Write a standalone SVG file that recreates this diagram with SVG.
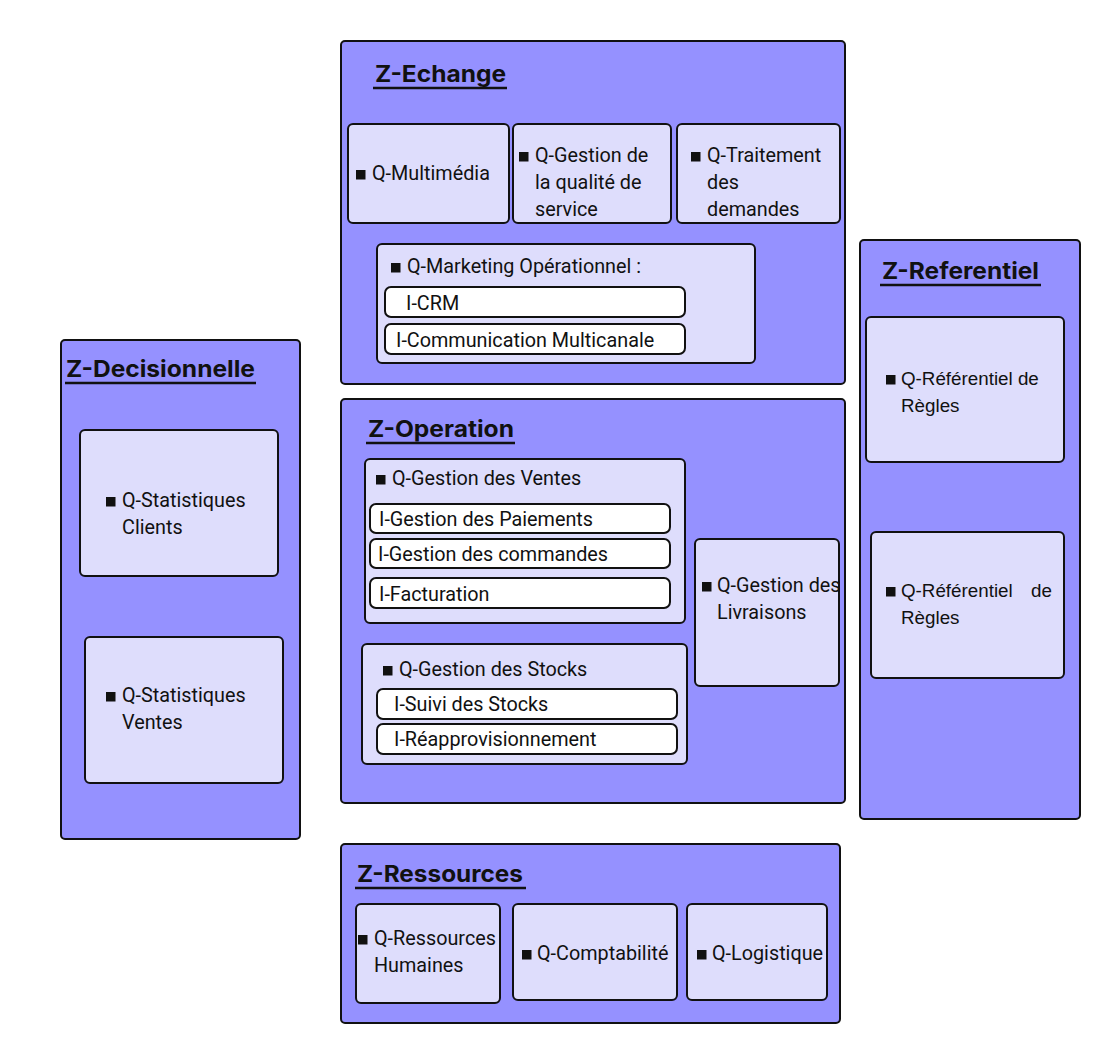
<svg xmlns="http://www.w3.org/2000/svg" width="1120" height="1064" viewBox="0 0 1120 1064">
<style>
.zone{fill:#9591FF;stroke:#111;stroke-width:2}
.q{fill:#DEDDFC;stroke:#111;stroke-width:2}
.i{fill:#FFFFFF;stroke:#111;stroke-width:2}
.t{font-family:Roboto,"Liberation Sans",sans-serif;font-size:19.8px;fill:#111}
.ta{font-family:"Liberation Sans",Arial,sans-serif;font-size:18.8px;fill:#111}
.h{font-family:Inter,"Liberation Sans",sans-serif;font-size:23px;font-weight:bold;fill:#111}
.ul{stroke:#111;stroke-width:2.5}
.b{fill:#111}
</style>
<rect width="1120" height="1064" fill="#FFFFFF"/>

<g id="z-echange">
<rect class="zone" x="341" y="41" width="504" height="343" rx="4"/>
<text class="h" x="375" y="82" textLength="131" lengthAdjust="spacingAndGlyphs">Z-Echange</text>
<line class="ul" x1="373" y1="88" x2="507" y2="88"/>
</g>
<g id="q-multimedia">
<rect class="q" x="348" y="124" width="161" height="99" rx="5"/>
<rect class="b" x="356" y="170" width="9.5" height="9.5"/>
<text class="t" x="372" y="180">Q-Multimédia</text>
</g>
<g id="q-qualite">
<rect class="q" x="513" y="124" width="158" height="99" rx="5"/>
<rect class="b" x="519" y="152" width="9.5" height="9.5"/>
<text class="t" x="535" y="162">Q-Gestion de</text>
<text class="t" x="535" y="189">la qualité de</text>
<text class="t" x="535" y="216">service</text>
</g>
<g id="q-traitement">
<rect class="q" x="677" y="124" width="163" height="99" rx="5"/>
<rect class="b" x="691" y="152" width="9.5" height="9.5"/>
<text class="t" x="707" y="162">Q-Traitement</text>
<text class="t" x="707" y="189">des</text>
<text class="t" x="707" y="216">demandes</text>
</g>
<g id="q-marketing">
<rect class="q" x="377" y="244" width="378" height="119" rx="5"/>
<rect class="b" x="391" y="263" width="9.5" height="9.5"/>
<text class="t" x="407" y="273">Q-Marketing Opérationnel :</text>
</g>
<g id="i-crm">
<rect class="i" x="385" y="287" width="300" height="30" rx="6"/>
<text class="t" x="406" y="310">I-CRM</text>
</g>
<g id="i-communication">
<rect class="i" x="385" y="324" width="300" height="30" rx="6"/>
<text class="t" x="396" y="347">I-Communication Multicanale</text>
</g>

<g id="z-operation">
<rect class="zone" x="341" y="399" width="504" height="404" rx="4"/>
<text class="h" x="368" y="437" textLength="146" lengthAdjust="spacingAndGlyphs">Z-Operation</text>
<line class="ul" x1="366" y1="443" x2="515" y2="443"/>
</g>
<g id="q-ventes">
<rect class="q" x="365" y="459" width="320" height="164" rx="5"/>
<rect class="b" x="376" y="475" width="9.5" height="9.5"/>
<text class="t" x="392" y="485">Q-Gestion des Ventes</text>
</g>
<g id="i-paiements">
<rect class="i" x="370" y="504" width="300" height="29" rx="6"/>
<text class="t" x="379" y="526">I-Gestion des Paiements</text>
</g>
<g id="i-commandes">
<rect class="i" x="370" y="539" width="300" height="29" rx="6"/>
<text class="t" x="378" y="561">I-Gestion des commandes</text>
</g>
<g id="i-facturation">
<rect class="i" x="370" y="578" width="300" height="30" rx="6"/>
<text class="t" x="379" y="601">I-Facturation</text>
</g>
<g id="q-stocks">
<rect class="q" x="362" y="644" width="325" height="120" rx="5"/>
<rect class="b" x="383" y="666" width="9.5" height="9.5"/>
<text class="t" x="399" y="676">Q-Gestion des Stocks</text>
</g>
<g id="i-suivi">
<rect class="i" x="377" y="689" width="300" height="30" rx="6"/>
<text class="t" x="394" y="711">I-Suivi des Stocks</text>
</g>
<g id="i-reappro">
<rect class="i" x="377" y="724" width="300" height="30" rx="6"/>
<text class="t" x="394" y="746">I-Réapprovisionnement</text>
</g>
<g id="q-livraisons">
<rect class="q" x="695" y="539" width="144" height="147" rx="5"/>
<rect class="b" x="702" y="582" width="9.5" height="9.5"/>
<text class="t" x="717" y="592">Q-Gestion des</text>
<text class="t" x="717" y="619">Livraisons</text>
</g>

<g id="z-decisionnelle">
<rect class="zone" x="61" y="340" width="239" height="499" rx="4"/>
<text class="h" x="66" y="377" textLength="189" lengthAdjust="spacingAndGlyphs">Z-Decisionnelle</text>
<line class="ul" x1="65" y1="383" x2="256" y2="383"/>
</g>
<g id="q-stat-clients">
<rect class="q" x="80" y="430" width="198" height="146" rx="5"/>
<rect class="b" x="106" y="497" width="9.5" height="9.5"/>
<text class="t" x="122" y="507">Q-Statistiques</text>
<text class="t" x="122" y="534">Clients</text>
</g>
<g id="q-stat-ventes">
<rect class="q" x="85" y="637" width="198" height="146" rx="5"/>
<rect class="b" x="106" y="692" width="9.5" height="9.5"/>
<text class="t" x="122" y="702">Q-Statistiques</text>
<text class="t" x="122" y="729">Ventes</text>
</g>

<g id="z-referentiel">
<rect class="zone" x="860" y="240" width="220" height="579" rx="4"/>
<text class="h" x="882" y="279" textLength="157" lengthAdjust="spacingAndGlyphs">Z-Referentiel</text>
<line class="ul" x1="880" y1="285" x2="1041" y2="285"/>
</g>
<g id="q-ref-1">
<rect class="q" x="866" y="317" width="198" height="145" rx="5"/>
<rect class="b" x="886" y="375" width="9.5" height="9.5"/>
<text class="ta" x="901" y="385">Q-Référentiel de</text>
<text class="ta" x="901" y="412">Règles</text>
</g>
<g id="q-ref-2">
<rect class="q" x="871" y="532" width="193" height="146" rx="5"/>
<rect class="b" x="886" y="587" width="9.5" height="9.5"/>
<text class="ta" x="901" y="597">Q-Référentiel</text>
<text class="ta" x="1031" y="597">de</text>
<text class="ta" x="901" y="624">Règles</text>
</g>

<g id="z-ressources">
<rect class="zone" x="341" y="844" width="499" height="179" rx="4"/>
<text class="h" x="357" y="882" textLength="166" lengthAdjust="spacingAndGlyphs">Z-Ressources</text>
<line class="ul" x1="355" y1="888" x2="526" y2="888"/>
</g>
<g id="q-rh">
<rect class="q" x="356" y="904" width="144" height="99" rx="5"/>
<rect class="b" x="358" y="935" width="9.5" height="9.5"/>
<text class="t" x="374" y="945">Q-Ressources</text>
<text class="t" x="374" y="972">Humaines</text>
</g>
<g id="q-comptabilite">
<rect class="q" x="513" y="904" width="164" height="96" rx="5"/>
<rect class="b" x="522" y="950" width="9.5" height="9.5"/>
<text class="t" x="537" y="960">Q-Comptabilité</text>
</g>
<g id="q-logistique">
<rect class="q" x="687" y="904" width="140" height="96" rx="5"/>
<rect class="b" x="697" y="950" width="9.5" height="9.5"/>
<text class="t" x="712" y="960">Q-Logistique</text>
</g>

<g id="connectors"></g>
</svg>
